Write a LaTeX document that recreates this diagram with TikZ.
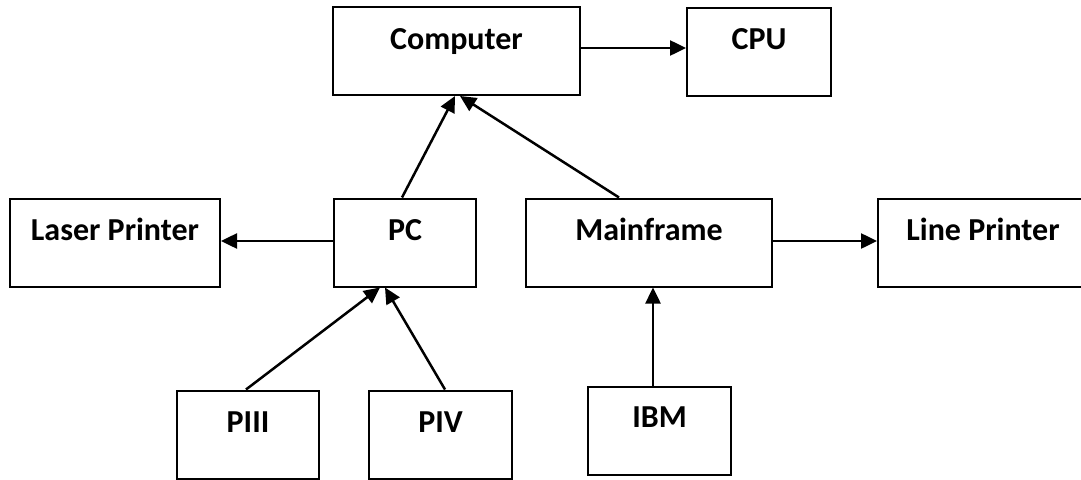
\documentclass[tikz,border=0pt]{standalone}
\usepackage{fontspec}
\setmainfont{Carlito}
\usetikzlibrary{arrows.meta}
\begin{document}
\begin{tikzpicture}[x=1pt,y=-1pt,
  bx/.style={draw=black, line width=2pt, minimum width=#1, minimum height=88pt, inner sep=0pt},
  lbl/.style={anchor=base, font=\fontsize{32}{38}\selectfont\bfseries, inner sep=0pt},
  arr/.style={draw=black, line width=2.5pt, -{Triangle[length=16pt,width=15pt]}}]
\clip (0,0) rectangle (1081,479);
\fill[white] (0,0) rectangle (1081,479);
% boxes
\node[bx=247pt] (Computer) at (456.5,51) {};
\node[bx=144pt] (CPU) at (759,52) {};
\node[bx=210pt] (Laser) at (115,242.5) {};
\node[bx=142pt] (PC) at (405,242.5) {};
\node[bx=246pt] (Mainframe) at (649,242.5) {};
\node[bx=210pt] (Line) at (983,242.5) {};
\node[bx=142pt] (PIII) at (248,434.5) {};
\node[bx=143pt] (PIV) at (440.5,434.5) {};
\node[bx=143pt] (IBM) at (659.5,430.5) {};
% labels
\node[lbl] (tComputer) at ([yshift=1.5pt]Computer.center) {Computer};
\node[lbl] (tCPU) at ([yshift=3pt]CPU.center) {CPU};
\node[lbl] (tLaser) at ([yshift=2pt]Laser.center) {Laser Printer};
\node[lbl] (tPC) at ([yshift=2pt]PC.center) {PC};
\node[lbl] (tMainframe) at ([yshift=2pt]Mainframe.center) {Mainframe};
\node[lbl] (tLine) at ([yshift=2pt]Line.center) {Line Printer};
\node[lbl] (tPIII) at ([yshift=2.5pt]PIII.center) {PIII};
\node[lbl] (tPIV) at ([yshift=2.5pt]PIV.center) {PIV};
\node[lbl] (tIBM) at ([yshift=3.5pt]IBM.center) {IBM};
% connectors
\draw[arr] ([yshift=3pt]Computer.east) -- ([yshift=3pt]Computer.east -| CPU.west);
\draw[arr] ([yshift=1.5pt]PC.west) -- ([yshift=1.5pt]PC.west -| Laser.east);
\draw[arr] ([yshift=1.5pt]Mainframe.east) -- ([yshift=1.5pt]Mainframe.east -| Line.west);
\draw[arr] ([xshift=-3pt]PC.north) -- ([xshift=-1.5pt]Computer.south);
\draw[arr] ([xshift=-30pt]Mainframe.north) -- ([xshift=3.5pt]Computer.south);
\draw[arr] ([xshift=-2pt]PIII.north) -- ([xshift=-25pt]PC.south);
\draw[arr] ([xshift=4.5pt]PIV.north) -- ([xshift=-20pt]PC.south);
\draw[arr] ([xshift=-6.5pt]IBM.north) -- ([xshift=-6.5pt]IBM.north |- Mainframe.south);
\end{tikzpicture}
\end{document}
